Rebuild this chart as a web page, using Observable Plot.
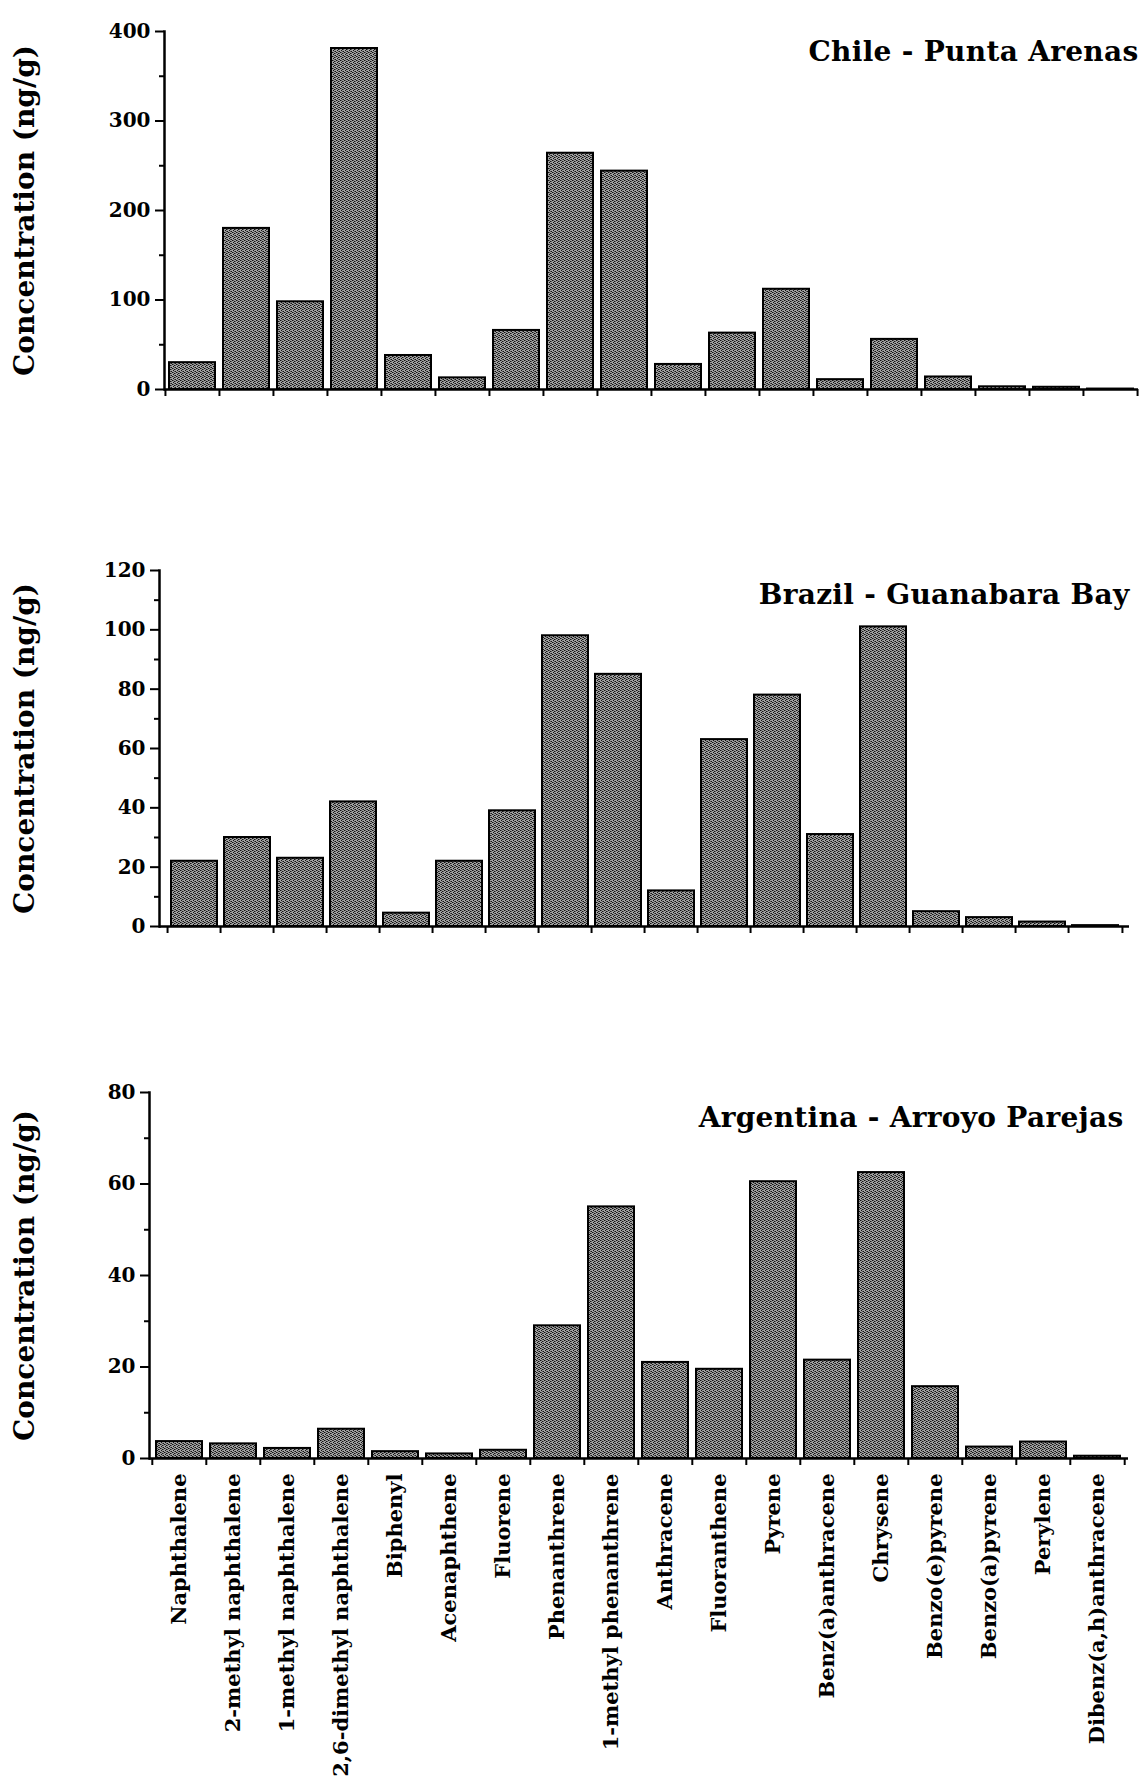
<!DOCTYPE html>
<html><head><meta charset="utf-8">
<script src="https://cdn.jsdelivr.net/npm/d3@7"></script>
<script src="https://cdn.jsdelivr.net/npm/@observablehq/plot@0.6"></script>
<style>
body{margin:0;background:#fff;}
#chart{width:1145px;}
#chart svg{display:block;}
</style></head><body>
<svg width="0" height="0" style="position:absolute">
  <defs>
    <pattern id="stipple" width="4" height="4" patternUnits="userSpaceOnUse">
      <rect width="4" height="4" fill="#a0a0a0"></rect>
      <rect x="0" y="0" width="1" height="1" fill="#111"></rect>
      <rect x="2" y="1" width="1" height="1" fill="#111"></rect>
      <rect x="1" y="2" width="1" height="1" fill="#111"></rect>
      <rect x="3" y="3" width="1" height="1" fill="#111"></rect>
      <rect x="3" y="1" width="1" height="1" fill="#555"></rect>
      <rect x="1" y="0" width="1" height="1" fill="#555"></rect>
      <rect x="2" y="3" width="1" height="1" fill="#555"></rect>
    </pattern>
  </defs>
</svg>
<div id="chart"></div>
<script>
const categories = ["Naphthalene","2-methyl naphthalene","1-methyl naphthalene","2,6-dimethyl naphthalene","Biphenyl","Acenaphthene","Fluorene","Phenanthrene","1-methyl phenanthrene","Anthracene","Fluoranthene","Pyrene","Benz(a)anthracene","Chrysene","Benzo(e)pyrene","Benzo(a)pyrene","Perylene","Dibenz(a,h)anthracene"];

const chileValues = [30, 180, 98, 381, 38, 13, 66, 264, 244, 28, 63, 112, 11, 56, 14, 3, 2.5, 0.5];
const brazilValues = [22, 30, 23, 42, 4.5, 22, 39, 98, 85, 12, 63, 78, 31, 101, 5, 3, 1.5, 0.3];
const argentinaValues = [3.7, 3.2, 2.2, 6.4, 1.5, 1, 1.8, 29, 55, 21, 19.5, 60.5, 21.5, 62.5, 15.7, 2.5, 3.6, 0.5];

const chileTicks = [0, 100, 200, 300, 400];
const chileMinorTicks = [50, 150, 250, 350];
const brazilTicks = [0, 20, 40, 60, 80, 100, 120];
const brazilMinorTicks = [10, 30, 50, 70, 90, 110];
const argentinaTicks = [0, 20, 40, 60, 80];
const argentinaMinorTicks = [10, 30, 50, 70];

const yLabel = "Concentration (ng/g)";
const chileTitle = "Chile - Punta Arenas";
const brazilTitle = "Brazil - Guanabara Bay";
const argentinaTitle = "Argentina - Arroyo Parejas";

const W = 1145;
const FONT = "'DejaVu Serif', 'Liberation Serif', serif";

function panel(o) {
  const rows = categories.map((name, i) => ({name, value: o.values[i]}));
  const step = (W - o.marginLeft - o.marginRight) / categories.length;
  const svg = Plot.plot({
    width: W, height: o.height,
    marginTop: o.marginTop, marginBottom: o.marginBottom,
    marginLeft: o.marginLeft, marginRight: o.marginRight,
    style: {fontFamily: FONT, fontWeight: "bold", color: "black", background: "white", overflow: "visible"},
    x: {type: "band", domain: categories, paddingInner: 0.14, paddingOuter: 0.07, axis: null, label: null},
    y: {domain: [0, o.yMax], axis: null, label: null},
    marks: [
      Plot.barY(rows, {x: "name", y: "value", fill: "url(#stipple)", stroke: "black", strokeWidth: 2}),
      Plot.ruleY([0], {stroke: "black", strokeWidth: 2.5}),
      Plot.frame({anchor: "left", stroke: "black", strokeWidth: 2.5}),
      Plot.axisY({ticks: o.minorTicks, tickSize: 5, tickFormat: () => "", strokeWidth: 2, label: null}),
      Plot.axisY({ticks: o.ticks, tickSize: 9, tickPadding: 5, strokeWidth: 2, fontSize: 20, fontWeight: "bold", label: null}),
      Plot.axisX({ticks: categories, tickSize: 7, tickFormat: () => "", dx: -step / 2, strokeWidth: 2, label: null}),
      Plot.axisX({ticks: [categories[categories.length - 1]], tickSize: 7, tickFormat: () => "", dx: step / 2, strokeWidth: 2, label: null}),
      o.showLabels ? Plot.axisX({ticks: categories, tickSize: 0, tickRotate: -90, tickPadding: 15, fontSize: 21, fontWeight: "bold", label: null}) : null,
      Plot.text([yLabel], {frameAnchor: "left", textAnchor: "middle", lineAnchor: "middle", dx: 25 - o.marginLeft, rotate: -90, fontSize: 28, fontWeight: "bold"}),
      Plot.text([o.title], {frameAnchor: "top-right", textAnchor: "end", lineAnchor: "middle", dx: o.titleDx, dy: o.titleDy, fontSize: 28, fontWeight: "bold"})
    ]
  });
  d3.select(svg).selectAll("text").filter(function() { return this.textContent === o.title; }).style("letter-spacing", "0.3px");
  return svg;
}

const chart = document.getElementById("chart");
chart.append(panel({values: chileValues, title: chileTitle, yMax: 400, ticks: chileTicks, minorTicks: chileMinorTicks,
  height: 470, marginTop: 31, marginBottom: 81, marginLeft: 164, marginRight: 7, titleDx: 0, titleDy: 21, showLabels: false}));
chart.append(panel({values: brazilValues, title: brazilTitle, yMax: 120, ticks: brazilTicks, minorTicks: brazilMinorTicks,
  height: 550, marginTop: 100, marginBottom: 94, marginLeft: 159, marginRight: 16, titleDx: 0, titleDy: 25, showLabels: false}));
chart.append(panel({values: argentinaValues, title: argentinaTitle, yMax: 80, ticks: argentinaTicks, minorTicks: argentinaMinorTicks,
  height: 756, marginTop: 72, marginBottom: 318, marginLeft: 149, marginRight: 17, titleDx: -5, titleDy: 26, showLabels: true}));
</script></body></html>
